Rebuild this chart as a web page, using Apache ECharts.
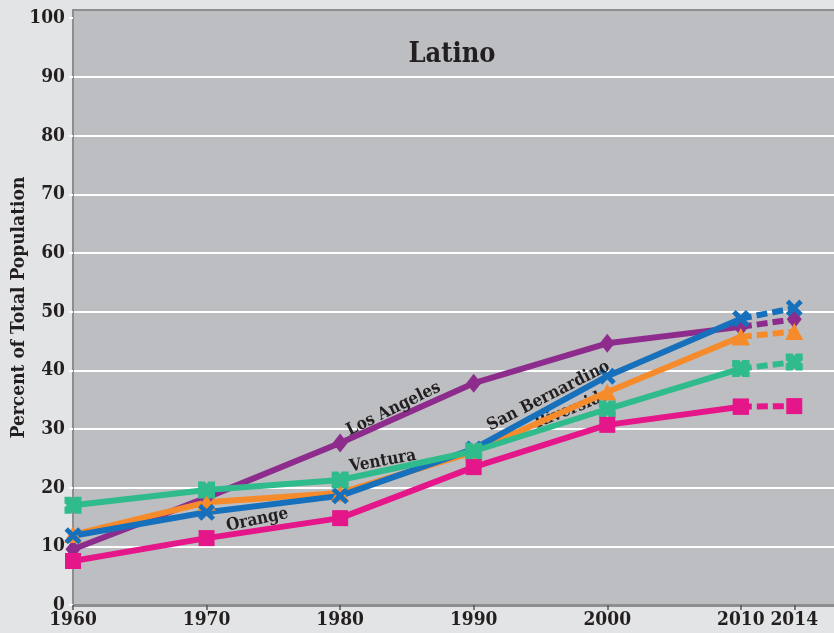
<!DOCTYPE html>
<html>
<head>
<meta charset="utf-8">
<script src="https://cdn.jsdelivr.net/npm/echarts@6/dist/echarts.min.js"></script>
<style>
html,body{margin:0;padding:0;background:#e3e4e5;}
#chart{width:834px;height:633px;}
</style>
</head>
<body>
<div id="chart"></div>
<script>
// ---- data ----
const years = [1960, 1970, 1980, 1990, 2000, 2010, 2014];
const losAngeles    = [9.5, 18.3, 27.6, 37.8, 44.6, 47.4, 48.7];
const riverside     = [12.0, 17.5, 19.1, 26.1, 36.3, 45.7, 46.6];
const sanBernardino = [11.8, 15.8, 18.6, 26.6, 39.0, 48.8, 50.6];
const ventura       = [17.0, 19.6, 21.3, 26.2, 33.4, 40.3, 41.4];
const orangeCo      = [7.5, 11.4, 14.8, 23.5, 30.7, 33.8, 33.9];
const xTickLabels = [1960, 1970, 1980, 1990, 2000, 2010, 2014];
const yTickLabels = [0, 10, 20, 30, 40, 50, 60, 70, 80, 90, 100];
// annotation labels: [text, year, value, angle]
const labelLA = ['Los Angeles', 1984.0, 33.4, 26];
const labelVen = ['Ventura', 1983.2, 24.5, 10];
const labelOr = ['Orange', 1973.8, 14.5, 12];
const labelSB = ['San Bernardino', 1995.6, 35.6, 27];
const labelRiv = ['Riverside', 1997.4, 33.4, 22];

const FONT = 'DejaVu Serif Condensed, DejaVu Serif, serif';
const TXT = '#231f20';

const symX = 'path://M0,2 L2,0 L5,3 L8,0 L10,2 L7,5 L10,8 L8,10 L5,7 L2,10 L0,8 L3,5 Z';
const symNotch = 'path://M0,0 L4,0 L5,1.5 L6,0 L10,0 L10,4 L8.5,5 L10,6 L10,10 L6,10 L5,8.5 L4,10 L0,10 L0,6 L1.5,5 L0,4 Z';

function pairs(vals, from, to) {
  const out = [];
  for (let i = from; i <= to; i++) out.push([years[i], vals[i]]);
  return out;
}
function mk(lbl, z) {
  return {
    symbol: 'circle', symbolSize: 1, silent: true, z: z,
    itemStyle: {color: 'rgba(0,0,0,0)'},
    data: [{coord: [lbl[1], lbl[2]], value: lbl[0],
      label: {show: true, position: 'inside', formatter: lbl[0], rotate: lbl[3],
        color: TXT, fontFamily: FONT, fontSize: 17, fontWeight: 'bold'}}]
  };
}
function makeSeries(name, vals, color, symbol, size, lbl, lblZ) {
  const solid = {
    name: name, type: 'line', data: pairs(vals, 0, 5),
    symbol: symbol, symbolSize: size, showAllSymbol: true,
    lineStyle: {color: color, width: 6}, itemStyle: {color: color},
    animation: false, z: 2
  };
  if (lbl) solid.markPoint = mk(lbl, lblZ);
  const dashed = {
    name: name + ' est', type: 'line', data: pairs(vals, 5, 6),
    symbol: symbol, symbolSize: size,
    lineStyle: {color: color, width: 6, type: [11, 5]}, itemStyle: {color: color},
    animation: false, z: 2
  };
  return [solid, dashed];
}

const series = [].concat(
  makeSeries('Los Angeles', losAngeles, '#8e2c8e', 'diamond', [15, 19], labelLA, 5),
  makeSeries('Riverside', riverside, '#f68b2c', 'triangle', [18, 17], labelRiv, 1),
  makeSeries('San Bernardino', sanBernardino, '#1770bb', symX, 17, labelSB, 5),
  makeSeries('Ventura', ventura, '#2fbb8c', symNotch, 17, labelVen, 5),
  makeSeries('Orange', orangeCo, '#e5168a', 'rect', 16, labelOr, 5)
);

const chart = echarts.init(document.getElementById('chart'), null, {renderer: 'canvas'});
chart.setOption({
  backgroundColor: '#e3e4e5',
  animation: false,
  title: {
    text: 'Latino', left: 447, top: 36, textAlign: 'center',
    textStyle: {fontFamily: FONT, fontSize: 27, fontWeight: 'bold', color: TXT}
  },
  grid: {
    left: 73, right: -3, top: 10, bottom: 28, containLabel: false, outerBoundsMode: 'none',
    show: true, backgroundColor: '#bdbec1', borderColor: '#8d8e90', borderWidth: 2
  },
  xAxis: {
    type: 'value', min: 1960, max: 2017.2,
    axisLine: {show: true, lineStyle: {color: '#8d8e90', width: 3}},
    axisTick: {show: true, customValues: xTickLabels, length: 5, lineStyle: {color: '#555', width: 1.5}},
    axisLabel: {customValues: xTickLabels, margin: 6, fontFamily: FONT, fontSize: 19, fontWeight: 'bold', color: TXT,
      formatter: v => String(v)},
    splitLine: {show: false}
  },
  yAxis: {
    type: 'value', min: 0, max: 101.4,
    name: 'Percent of Total Population', nameLocation: 'middle', nameGap: 44, nameMoveOverlap: false,
    nameTextStyle: {fontFamily: FONT, fontSize: 19, fontWeight: 'bold', color: TXT},
    axisLine: {show: true, lineStyle: {color: '#8d8e90', width: 2}},
    axisTick: {show: true, customValues: yTickLabels, length: 4, lineStyle: {color: '#ffffff', width: 2}},
    axisLabel: {customValues: yTickLabels, margin: 8, fontFamily: FONT, fontSize: 19, fontWeight: 'bold', color: TXT},
    splitLine: {show: true, showMaxLine: false, showMinLine: false, lineStyle: {color: '#ffffff', width: 2}}
  },
  series: series
});
</script>
</body>
</html>
